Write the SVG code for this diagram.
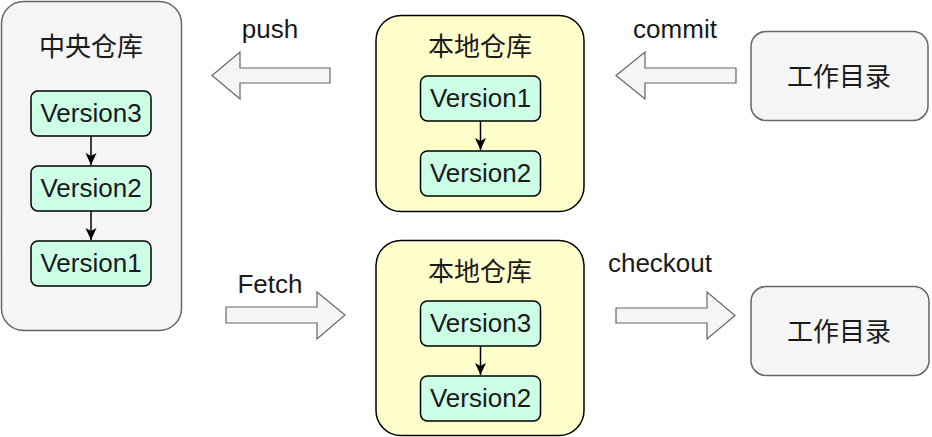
<svg xmlns="http://www.w3.org/2000/svg" width="932" height="437" viewBox="0 0 932 437">
<style>
text{font-family:"Liberation Sans","Noto Sans CJK SC",Arial,sans-serif;font-size:26px;fill:#1a1a1a;text-anchor:middle}
.grey{fill:#f5f5f5;stroke:#666666;stroke-width:1.5}
.repo{fill:#ffffcc;stroke:#000000;stroke-width:1.5}
.ver{fill:#ccffe6;stroke:#000000;stroke-width:1.5}
.big{fill:#f5f5f5;stroke:#666666;stroke-width:1.2}
.link{stroke:#000000;stroke-width:1.5;fill:none}
</style>
<defs>
<marker id="ah" markerUnits="userSpaceOnUse" markerWidth="14" markerHeight="14" viewBox="0 0 14 14" refX="13" refY="7" orient="auto">
<path d="M1,1.5 L13,7 L1,12.5 L4,7 Z" fill="#000000"/>
</marker>
</defs>

<g id="central">
<rect class="grey" x="1.5" y="1.5" width="180" height="329" rx="22"/>
<text x="91" y="56">中央仓库</text>
</g>
<g id="c-v3"><rect class="ver" x="31" y="91" width="120" height="45" rx="7"/><text x="91" y="122">Version3</text></g>
<g id="c-v2"><rect class="ver" x="31" y="166" width="120" height="45" rx="7"/><text x="91" y="197">Version2</text></g>
<g id="c-v1"><rect class="ver" x="31" y="241" width="120" height="45" rx="7"/><text x="91" y="272">Version1</text></g>

<g id="local-top">
<rect class="repo" x="376" y="15.5" width="208" height="196" rx="25"/>
<text x="480" y="56">本地仓库</text>
</g>
<g id="lt-v1"><rect class="ver" x="420.5" y="76" width="120" height="45" rx="7"/><text x="480.5" y="107">Version1</text></g>
<g id="lt-v2"><rect class="ver" x="420.5" y="151" width="120" height="45" rx="7"/><text x="480.5" y="182">Version2</text></g>

<g id="local-bottom">
<rect class="repo" x="376" y="240.5" width="208" height="195" rx="25"/>
<text x="480" y="281">本地仓库</text>
</g>
<g id="lb-v3"><rect class="ver" x="420.5" y="301" width="120" height="45" rx="7"/><text x="480.5" y="332">Version3</text></g>
<g id="lb-v2"><rect class="ver" x="420.5" y="376" width="120" height="45" rx="7"/><text x="480.5" y="407">Version2</text></g>

<g id="work-top">
<rect class="grey" x="751" y="31.5" width="177" height="89" rx="15"/>
<text x="839" y="86">工作目录</text>
</g>
<g id="work-bottom">
<rect class="grey" x="751" y="286.5" width="178" height="89" rx="15"/>
<text x="839" y="341">工作目录</text>
</g>

<g id="connectors">
<line class="link" x1="91" y1="136" x2="91" y2="165" marker-end="url(#ah)"/>
<line class="link" x1="91" y1="211" x2="91" y2="240" marker-end="url(#ah)"/>
<line class="link" x1="480.5" y1="121" x2="480.5" y2="150" marker-end="url(#ah)"/>
<line class="link" x1="480.5" y1="346" x2="480.5" y2="375" marker-end="url(#ah)"/>

<g id="push">
<path class="big" d="M330,68 L240,68 L240,52 L212,75.5 L240,99 L240,83 L330,83 Z"/>
<text x="270" y="38">push</text>
</g>
<g id="commit">
<path class="big" d="M736,68 L645,68 L645,52 L616,75.5 L645,99 L645,83 L736,83 Z"/>
<text x="675" y="38">commit</text>
</g>
<g id="fetch">
<path class="big" d="M226,307 L317,307 L317,292 L345,315 L317,339 L317,323 L226,323 Z"/>
<text x="270" y="293">Fetch</text>
</g>
<g id="checkout">
<path class="big" d="M616,308 L707,308 L707,292 L735,315.5 L707,339 L707,323 L616,323 Z"/>
<text x="660" y="272">checkout</text>
</g>
</g>
</svg>
